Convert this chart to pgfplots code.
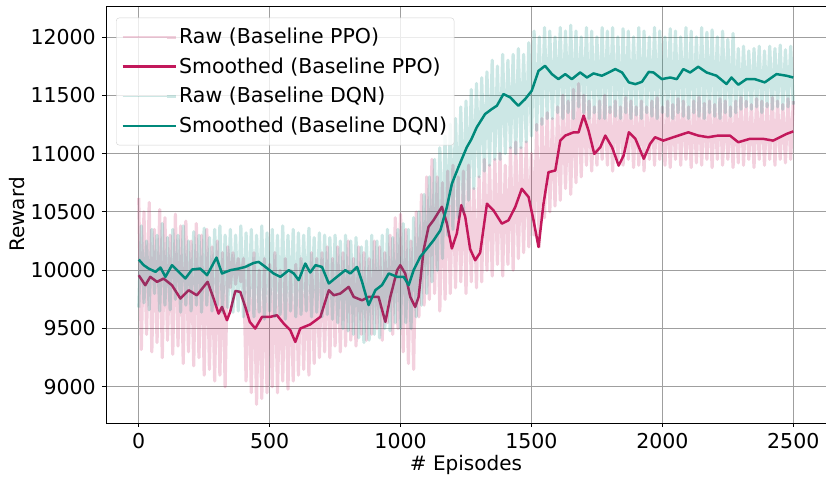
\documentclass[border=0pt]{standalone}
\usepackage{fontspec}
\setmainfont{DejaVu Sans}
\usepackage{pgfplots}
\usepackage{pgfplotstable}
\pgfplotsset{compat=1.18}
\definecolor{ppo}{HTML}{C2185B}
\definecolor{dqn}{HTML}{00897B}
\pgfplotsset{rawlegend/.style={legend image code/.code={\draw[##1, line width=1.6pt] (0pt,0pt) -- (44pt,0pt); \path (44pt,0pt) -- (53pt,0pt);}}}

\pgfplotstableread{
ep ppo dqn
0 10620 9680
10 9320 10380
20 10500 9720
30 9450 10250
40 10580 9660
50 9300 10350
60 10350 9800
70 9380 10300
80 10520 9650
90 9250 10400
100 10450 9700
110 9400 10280
120 10300 9660
130 9280 10350
140 10480 9750
150 9350 10300
160 10380 9640
170 9200 10380
180 10420 9700
190 9300 10250
200 10250 9650
210 9180 10330
220 10400 9700
230 9250 10300
240 10300 9640
250 9100 10360
260 10350 9700
270 9150 10280
280 10200 9650
290 9050 10350
300 10250 9700
310 9100 10380
320 10150 9640
330 9000 10300
340 10200 9680
350 9850 10350
360 10150 9640
370 9880 10300
380 10100 9650
390 9900 10380
400 10100 9600
410 9050 10320
420 10050 9650
430 8950 10350
440 10150 9600
450 8850 10300
460 10000 9640
470 8900 10380
480 10100 9580
490 8950 10320
500 10050 9650
510 9000 10350
520 10150 9600
530 8950 10300
540 10000 9620
550 9050 10380
560 10100 9580
570 8980 10300
580 10000 9650
590 9050 10350
600 10050 9600
610 9100 10320
620 10100 9620
630 9150 10300
640 10050 9650
650 9100 10360
660 10150 9600
670 9200 10280
680 10100 9640
690 9250 10320
700 10150 9600
710 9300 10300
720 10200 9620
730 9250 10280
740 10100 9580
750 9350 10300
760 10200 9550
770 9300 10250
780 10150 9500
790 9350 10300
800 10250 9480
810 9400 10250
820 10100 9450
830 9350 10280
840 10200 9420
850 9450 10200
860 10150 9380
870 9400 10250
880 10100 9400
890 9450 10300
900 10250 9450
910 9500 10250
920 10200 9420
930 9400 10300
940 10150 9500
950 9550 10350
960 10300 9480
970 9450 10280
980 10450 9550
990 9500 10350
1000 10480 9500
1010 9300 10400
1020 10350 9550
1030 9200 10350
1040 10250 9500
1050 9150 10450
1060 10500 9600
1070 9600 10500
1080 10650 9700
1090 9700 10650
1100 10800 9800
1110 9750 10800
1120 10950 9900
1130 9800 10950
1140 10800 10000
1150 9650 11050
1160 10750 10100
1170 9750 11150
1180 10850 10300
1190 9800 11250
1200 10900 10350
1210 9850 11300
1220 10800 10450
1230 9900 11400
1240 10850 10500
1250 9800 11450
1260 10900 10600
1270 9900 11550
1280 10700 10700
1290 9850 11600
1300 10800 10800
1310 9900 11650
1320 10950 10850
1330 10000 11700
1340 10900 10900
1350 9950 11800
1360 10950 10950
1370 10050 11750
1380 11000 10950
1390 9950 11850
1400 10900 11000
1410 10050 11800
1420 11050 11050
1430 10000 11850
1440 11100 11000
1450 10100 11900
1460 11050 11050
1470 10150 11850
1480 11100 11100
1490 10200 11950
1500 11000 11150
1510 10300 12050
1520 11250 11200
1530 10200 12000
1540 11300 11250
1550 10450 12080
1560 11350 11300
1570 10500 12050
1580 11300 11300
1590 10550 12000
1600 11400 11350
1610 10600 12080
1620 11500 11300
1630 10700 12050
1640 11450 11350
1650 10650 12100
1660 11550 11300
1670 10750 12050
1680 11600 11400
1690 10800 12000
1700 11500 11350
1710 10900 12080
1720 11450 11300
1730 10850 12050
1740 11400 11350
1750 10900 12000
1760 11450 11300
1770 10950 12080
1780 11500 11300
1790 10900 12050
1800 11400 11350
1810 10850 12080
1820 11450 11320
1830 10950 12000
1840 11400 11300
1850 10900 12070
1860 11480 11350
1870 10950 12050
1880 11450 11300
1890 10880 12000
1900 11400 11330
1910 10900 12080
1920 11450 11300
1930 10850 12050
1940 11400 11350
1950 10950 12000
1960 11450 11320
1970 10900 12080
1980 11480 11300
1990 10950 12050
2000 11400 11350
2010 10900 12000
2020 11450 11320
2030 10880 12070
2040 11420 11300
2050 10950 12050
2060 11470 11350
2070 10900 12000
2080 11450 11320
2090 10950 12080
2100 11400 11300
2110 10880 12050
2120 11450 11350
2130 10920 12000
2140 11480 11320
2150 10900 12080
2160 11430 11300
2170 10950 12040
2180 11450 11350
2190 10880 12060
2200 11420 11320
2210 10950 12000
2220 11470 11300
2230 10900 12050
2240 11450 11350
2250 10950 11980
2260 11400 11320
2270 10880 12030
2280 11450 11350
2290 10920 11900
2300 11480 11380
2310 10900 11920
2320 11450 11400
2330 10950 11880
2340 11420 11380
2350 10880 11900
2360 11470 11400
2370 10950 11920
2380 11450 11350
2390 10900 11880
2400 11430 11400
2410 10950 11920
2420 11480 11380
2430 10900 11900
2440 11450 11400
2450 10950 11930
2460 11420 11380
2470 10920 11890
2480 11470 11400
2490 10950 11920
2500 11450 11420
}\rawdata

\begin{document}
\fontsize{20}{24}\selectfont
\begin{tikzpicture}
\begin{axis}[
  scale only axis, width=720pt, height=417pt,
  xmin=-125, xmax=2625, ymin=8690, ymax=12265,
  xtick={0,500,...,2500}, ytick={9000,9500,...,12000},
  scaled x ticks=false, scaled y ticks=false,
  grid=major, grid style={gray!75, line width=0.8pt},
  axis line style={black, line width=0.8pt},
  tick align=outside, major tick length=4pt,
  tick style={black, line width=0.8pt},
  xtick pos=bottom, ytick pos=left,
  /pgf/number format/assume math mode=true,
  /pgf/number format/1000 sep={},
  xticklabel={\pgfmathprintnumber[assume math mode=true,1000 sep={}]{\tick}},
  yticklabel={\pgfmathprintnumber[assume math mode=true,1000 sep={}]{\tick}},
  tick label style={font=\fontsize{20.5}{24}\selectfont},
  xticklabel style={inner sep=6pt},
  yticklabel style={inner sep=6pt},
  xlabel={\# Episodes}, ylabel={Reward},
  label style={font=\fontsize{20}{24}\selectfont},
  xlabel style={at={(axis description cs:0.5,-0.0607)}, anchor=north},
  ylabel style={at={(axis description cs:-0.103,0.5)}, anchor=south},
  legend style={at={(0.014,0.972)}, anchor=north west, draw=gray!35,
    rounded corners=3pt, fill=white, fill opacity=0.8, text opacity=1,
    font=\fontsize{20.5}{24}\selectfont,
    row sep=7pt, inner xsep=5pt, inner ysep=8pt},
  legend cell align=left,
  legend image code/.code={\draw[#1] (0pt,0pt) -- (44pt,0pt); \path (44pt,0pt) -- (53pt,0pt);},
]
\coordinate (origin) at (rel axis cs:0,0);
\addplot[ppo, opacity=0.2, line width=3.2pt, line join=round, rawlegend] table[x=ep,y=ppo]{\rawdata};
\addlegendentry{Raw (Baseline PPO)}
\addplot[ppo, line width=2.5pt, line join=round] coordinates {
(0,9957)(25,9871)(44,9943)(70,9900)(95,9928)(127,9871)(159,9757)(191,9828)(222,9785)(263,9900)(286,9757)(305,9628)(318,9685)(337,9571)(349,9642)(369,9822)(388,9814)(407,9685)(424,9557)(445,9500)(471,9600)(503,9600)(528,9614)(554,9542)(579,9485)(598,9385)(617,9500)(655,9535)(694,9600)(726,9828)(745,9785)(770,9800)(802,9857)(821,9771)(853,9742)(878,9771)(916,9771)(942,9557)(961,9771)(987,10000)(999,10043)(1018,9971)(1037,9771)(1056,9685)(1069,9771)(1088,10172)(1107,10372)(1126,10429)(1158,10544)(1177,10401)(1196,10186)(1215,10315)(1232,10558)(1247,10458)(1266,10180)(1285,10085)(1304,10150)(1330,10570)(1355,10513)(1387,10399)(1412,10427)(1438,10541)(1463,10698)(1489,10627)(1508,10427)(1527,10199)(1546,10570)(1565,10840)(1591,10855)(1610,11111)(1629,11154)(1661,11182)(1680,11182)(1699,11325)(1718,11197)(1740,10997)(1763,11054)(1782,11154)(1808,11054)(1833,10897)(1852,10983)(1872,11182)(1897,11126)(1929,10955)(1953,11083)(1972,11140)(2004,11111)(2042,11140)(2099,11182)(2137,11154)(2175,11140)(2213,11154)(2258,11154)(2290,11097)(2334,11126)(2385,11126)(2423,11111)(2474,11168)(2500,11190)
};
\addlegendentry{Smoothed (Baseline PPO)}
\addplot[dqn, opacity=0.2, line width=3.2pt, line join=round, rawlegend] table[x=ep,y=dqn]{\rawdata};
\addlegendentry{Raw (Baseline DQN)}
\addplot[dqn, line width=2.5pt, line join=round] coordinates {
(0,10091)(19,10043)(38,10014)(64,9986)(83,10023)(102,9943)(127,10043)(153,9986)(178,9929)(204,10006)(235,10014)(261,9957)(297,10108)(318,9972)(350,10000)(382,10014)(407,10028)(439,10062)(458,10071)(484,10028)(515,9972)(541,9943)(573,10000)(592,9972)(611,9915)(636,10057)(655,9980)(675,10043)(700,10028)(726,9886)(757,9943)(789,10000)(808,9972)(834,10028)(853,9900)(878,9701)(904,9829)(929,9872)(955,9972)(987,9943)(1012,9943)(1031,9872)(1050,10000)(1075,10114)(1101,10185)(1126,10256)(1152,10342)(1177,10541)(1196,10741)(1221,10883)(1253,11054)(1270,11120)(1291,11225)(1323,11339)(1349,11382)(1368,11410)(1393,11510)(1419,11481)(1450,11410)(1476,11467)(1501,11538)(1527,11709)(1552,11752)(1578,11681)(1603,11638)(1629,11681)(1654,11638)(1686,11695)(1712,11652)(1737,11687)(1769,11667)(1795,11695)(1820,11724)(1846,11695)(1872,11610)(1897,11595)(1922,11615)(1948,11700)(1966,11695)(1998,11638)(2030,11652)(2055,11638)(2080,11724)(2106,11695)(2137,11744)(2169,11695)(2207,11667)(2245,11596)(2264,11652)(2290,11590)(2321,11638)(2353,11638)(2391,11610)(2436,11681)(2474,11667)(2500,11652)
};
\addlegendentry{Smoothed (Baseline DQN)}
\end{axis}
\pgfresetboundingbox
\path (origin) ++(-106pt,-55pt) rectangle ++(826pt,478pt);
\end{tikzpicture}
\end{document}
